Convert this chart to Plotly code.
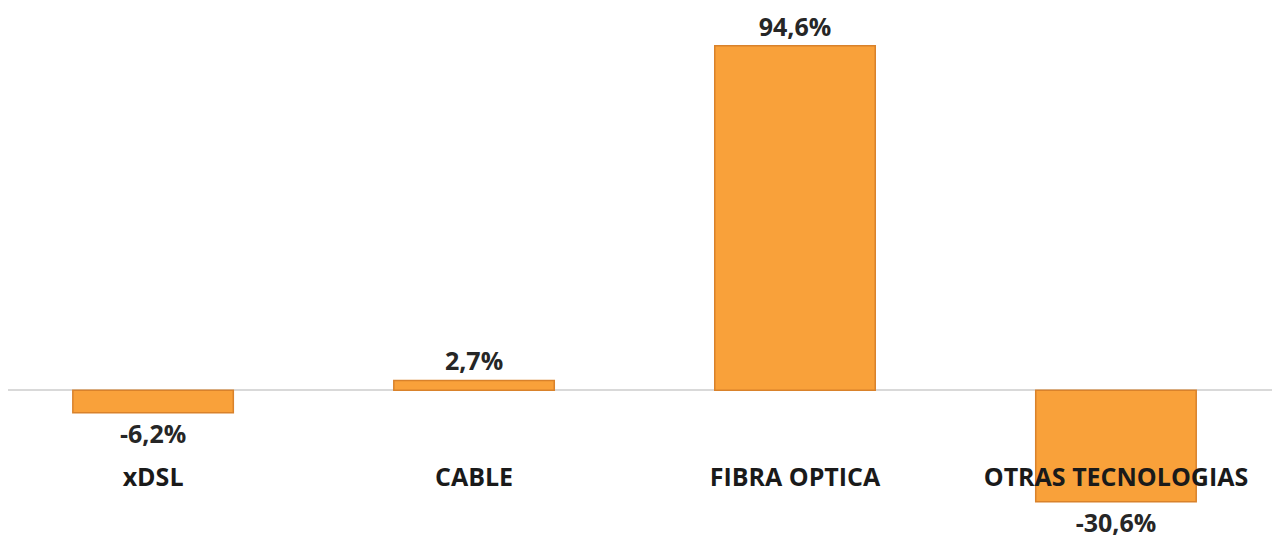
import plotly.graph_objects as go

categories = ["xDSL", "CABLE", "FIBRA OPTICA", "OTRAS TECNOLOGIAS"]
values = [-6.2, 2.7, 94.6, -30.6]

fig = go.Figure(
    go.Bar(
        x=categories,
        y=values,
        width=0.5,
        marker=dict(color="#F9A13A", line=dict(color="#D9822B", width=1.5)),
        texttemplate="%{y:.1f}%",
        textposition="outside",
        textfont=dict(family="Open Sans", size=25, color="#262626", weight="bold"),
        cliponaxis=False,
    )
)

fig.update_layout(
    width=1280,
    height=541,
    margin=dict(l=0, r=0, t=0, b=0),
    paper_bgcolor="white",
    plot_bgcolor="white",
    separators=",.",
    showlegend=False,
    xaxis=dict(
        range=[-0.452, 3.536],
        anchor="free",
        position=0.164,
        showline=False,
        showgrid=False,
        ticks="",
        tickfont=dict(family="Open Sans", size=25, color="#1a1a1a", weight="bold"),
        layer="above traces",
    ),
    yaxis=dict(
        range=[-43.6, 105.0],
        showgrid=False,
        showticklabels=False,
        zeroline=True,
        zerolinecolor="#D9D9D9",
        zerolinewidth=1.5,
    ),
)

fig.write_html("out.html")
